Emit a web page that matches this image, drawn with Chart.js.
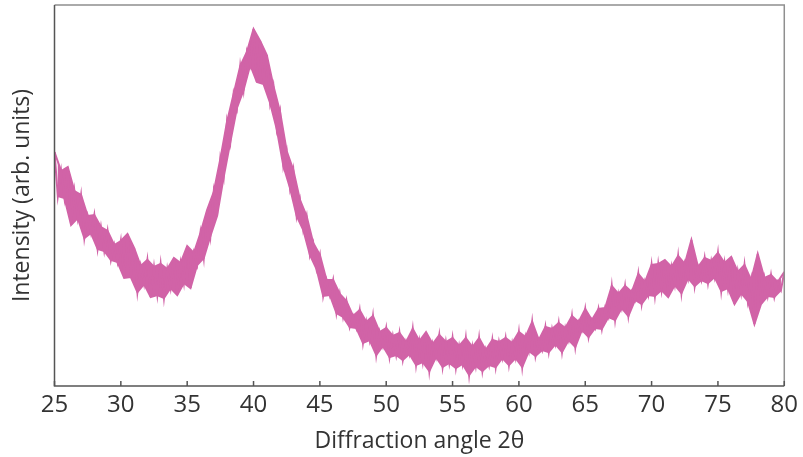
<!DOCTYPE html>
<html>
  <head>
    <meta charset="UTF-8" />
    <title>Diffraction pattern</title>
    <script src="https://cdn.jsdelivr.net/npm/chart.js"></script>
    <style>
      html, body {
        margin: 0;
        padding: 0;
        background: #ffffff;
      }
      canvas {
        display: block;
      }
    </style>
  </head>
  <body>
    <canvas id="myChart" width="803" height="457"></canvas>

    <script>
      // diffraction angle 2θ (degrees), sampled every 0.25° from 25 to 80
      const angleStart = 25;
      const angleStep = 0.25;
      const xTicks = [25, 30, 35, 40, 45, 50, 55, 60, 65, 70, 75, 80];

      // noisy intensity, arbitrary units:
      // even samples sit on the upper edge of the noise, odd ones on the lower edge
      const intensity = [
        234, 190, 215, 188, 219, 161, 195, 168, 191, 148, 170, 153, 171, 137, 159, 135,
        155, 126, 141, 124, 145, 108, 152, 109, 138, 94, 120, 102, 126, 89, 119, 91,
        122, 88, 117, 98, 128, 91, 123, 103, 140, 98, 133, 121, 153, 128, 176, 150,
        194, 170, 227, 209, 264, 244, 292, 278, 320, 296, 334, 321, 357, 304, 345, 302,
        331, 283, 300, 257, 274, 220, 235, 198, 216, 170, 186, 156, 170, 131, 143, 117,
        131, 90, 106, 91, 106, 73, 92, 69, 85, 59, 70, 58, 76, 43, 64, 46,
        70, 31, 54, 40, 58, 29, 50, 31, 53, 26, 44, 32, 57, 21, 45, 24,
        54, 15, 42, 29, 51, 19, 44, 23, 48, 18, 40, 22, 48, 11, 39, 20,
        48, 15, 36, 21, 46, 19, 44, 28, 48, 21, 43, 28, 54, 19, 49, 35,
        64, 30, 46, 36, 59, 34, 57, 42, 63, 34, 58, 46, 70, 39, 64, 56,
        77, 49, 66, 58, 77, 57, 78, 69, 100, 66, 92, 78, 100, 70, 94, 86,
        112, 82, 104, 91, 121, 90, 122, 96, 126, 89, 119, 101, 130, 93, 122, 108,
        146, 100, 119, 106, 128, 103, 125, 109, 133, 95, 123, 98, 129, 82, 114, 93,
        121, 85, 106, 62, 132, 82, 108, 90, 111, 89, 104, 96, 114
      ];

      const points = intensity.map((v, i) => ({ x: angleStart + i * angleStep, y: v }));
      const upper = points.filter((p, i) => i % 2 === 0);
      const lower = points.filter((p, i) => i % 2 === 1);

      const pink = "#d163a7";

      // box frame and inward tick marks
      const frame = {
        id: "frame",
        afterDraw(chart) {
          const { ctx, chartArea: a, scales } = chart;
          ctx.save();
          ctx.lineWidth = 1.5;
          ctx.strokeStyle = "#8f8f8f";
          ctx.beginPath();
          ctx.moveTo(a.left, a.top);
          ctx.lineTo(a.right, a.top);
          ctx.lineTo(a.right, a.bottom);
          ctx.stroke();
          ctx.strokeStyle = "#555555";
          ctx.beginPath();
          ctx.moveTo(a.left, a.top);
          ctx.lineTo(a.left, a.bottom);
          ctx.lineTo(a.right, a.bottom);
          ctx.stroke();
          ctx.beginPath();
          xTicks.forEach(t => {
            const px = scales.x.getPixelForValue(t);
            ctx.moveTo(px, a.bottom);
            ctx.lineTo(px, a.bottom - 5);
          });
          ctx.stroke();
          ctx.restore();
        }
      };

      const fontFamily = "'Open Sans', sans-serif";

      new Chart(document.getElementById("myChart"), {
        type: "line",
        data: {
          datasets: [
            {
              data: points,
              borderColor: pink,
              borderWidth: 2,
              pointRadius: 0,
              tension: 0
            },
            {
              data: upper,
              borderColor: pink,
              backgroundColor: pink,
              borderWidth: 2,
              pointRadius: 0,
              tension: 0,
              fill: "+1"
            },
            {
              data: lower,
              borderColor: pink,
              borderWidth: 2,
              pointRadius: 0,
              tension: 0
            }
          ]
        },
        options: {
          responsive: false,
          animation: false,
          layout: { padding: { top: 5, right: 15, left: 0, bottom: 0 } },
          plugins: {
            legend: { display: false },
            tooltip: { enabled: false }
          },
          scales: {
            x: {
              type: "linear",
              min: 25,
              max: 80,
              afterBuildTicks: s => { s.ticks = xTicks.map(v => ({ value: v })); },
              afterFit: s => { s.height = 71; },
              grid: { display: false, drawTicks: false },
              border: { display: false },
              ticks: {
                color: "#333333",
                font: { family: fontFamily, size: 24 },
                padding: 5,
                maxRotation: 0
              },
              title: {
                display: true,
                text: "Diffraction angle 2θ",
                color: "#333333",
                font: { family: fontFamily, size: 23 },
                padding: { top: 0, bottom: 2 }
              }
            },
            y: {
              min: 0,
              max: 381,
              afterFit: s => { s.width = 54.5; },
              grid: { display: false, drawTicks: false },
              border: { display: false },
              ticks: { display: false },
              title: {
                display: true,
                text: "Intensity (arb. units)",
                color: "#333333",
                font: { family: fontFamily, size: 23 },
                padding: { top: 9, bottom: 0 }
              }
            }
          }
        },
        plugins: [frame]
      });
    </script>
  </body>
</html>
